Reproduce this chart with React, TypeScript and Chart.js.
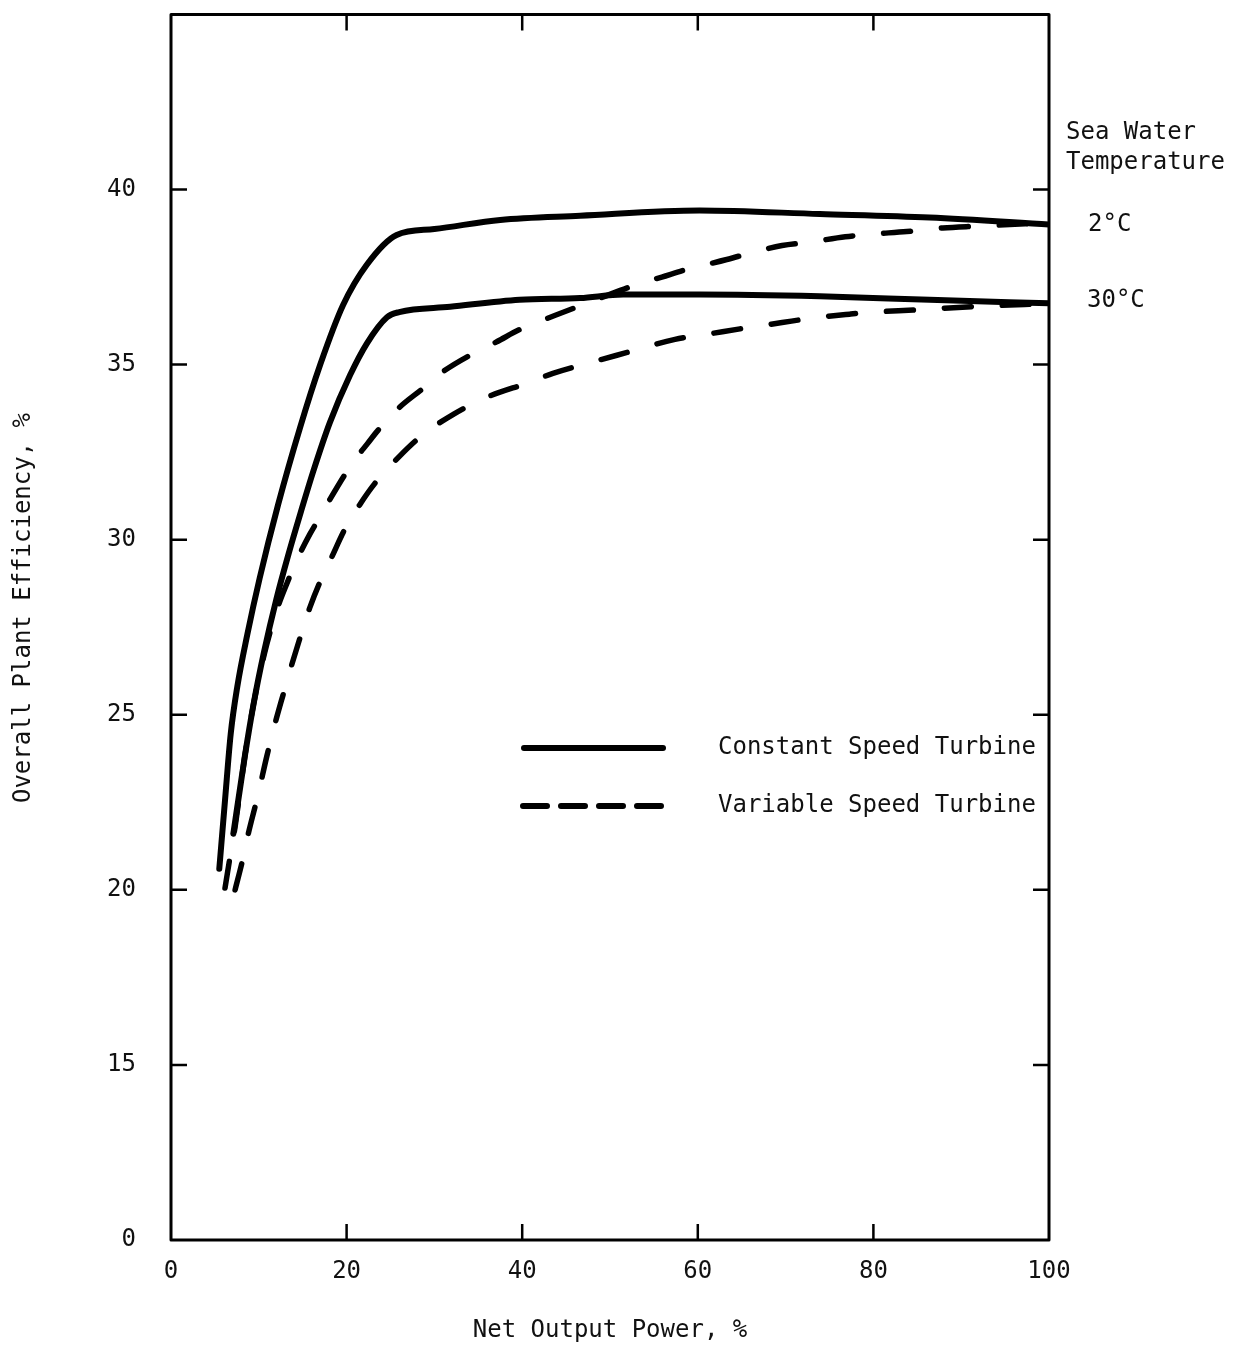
import React, { useEffect, useRef } from "react";
import { Chart, registerables } from "chart.js";

Chart.register(...registerables);

const FONT = '"DejaVu Sans Mono", "Liberation Mono", monospace';
const INK = "#111";
const FS = 24;

// ---- axes ----
const xTickValues = [0, 20, 40, 60, 80, 100];
const xTickLabels = ["0", "20", "40", "60", "80", "100"];
const yTickValues = [10, 15, 20, 25, 30, 35, 40, 45];
const yTickLabels = ["0", "15", "20", "25", "30", "35", "40", ""];
const innerTickX = [20, 40, 60, 80];
const innerTickY = [15, 20, 25, 30, 35, 40];

const xTitle = "Net Output Power, %";
const yTitle = "Overall Plant Efficiency, %";
const sideTitle = ["Sea Water", "Temperature"];
const tempLabels = ["2°C", "30°C"];
const legendLabels = ["Constant Speed Turbine", "Variable Speed Turbine"];

// ---- Constant speed turbine, 2°C ----
const const2X = [5.5, 6.15, 6.8, 7.55, 8.7, 10.1, 12.2, 14.7, 17.0, 19.6, 22.3, 25.7, 30, 37.5, 46.6, 60.2, 73.9, 86.4, 100];
const const2Y = [20.6, 22.55, 24.45, 25.8, 27.3, 28.9, 31.0, 33.2, 35.0, 36.7, 37.85, 38.7, 38.87, 39.13, 39.25, 39.4, 39.3, 39.2, 39.0];

// ---- Constant speed turbine, 30°C ----
const const30X = [7.1, 8.4, 9.4, 10.6, 12.0, 13.4, 14.8, 16.2, 18.1, 20.4, 22.3, 24.6, 26, 31.8, 39.7, 46.6, 51.5, 60.2, 73.9, 86.4, 100];
const const30Y = [21.6, 23.8, 25.3, 26.8, 28.3, 29.6, 30.8, 31.95, 33.35, 34.7, 35.6, 36.35, 36.5, 36.65, 36.85, 36.9, 37.0, 37.0, 36.95, 36.85, 36.75];

// ---- Variable speed turbine, 2°C ----
const var2X = [6.15, 6.7, 7.3, 8.4, 9.4, 10.6, 12.0, 13.2, 14.3, 15.8, 17.2, 18.1, 20.7, 22.4, 23.5, 25.9, 28.6, 31.0, 34.3, 37.1, 39.7, 43.7, 48.9, 53.2, 55.9, 58.5, 63.3, 66.2, 69.6, 72.8, 76.8, 79.6, 83.8, 87.9, 91.6, 100];
const var2Y = [20.05, 20.9, 21.8, 23.8, 25.3, 26.7, 27.95, 28.75, 29.4, 30.15, 30.75, 31.15, 32.2, 32.75, 33.1, 33.75, 34.3, 34.8, 35.3, 35.65, 36.0, 36.4, 36.9, 37.3, 37.5, 37.7, 38.0, 38.2, 38.4, 38.5, 38.65, 38.72, 38.8, 38.9, 38.95, 39.05];

// ---- Variable speed turbine, 30°C ----
const var30X = [7.3, 8.2, 8.8, 9.9, 10.9, 11.8, 12.8, 13.6, 14.7, 15.8, 16.9, 18.3, 19.8, 21.5, 23.2, 26.1, 28.7, 32.3, 35.8, 40.9, 43.5, 47.5, 52, 57.4, 61.4, 64.8, 69.6, 72.8, 77.3, 80, 84.7, 87.4, 91.6, 100];
const var30Y = [20.0, 20.9, 21.6, 22.7, 23.8, 24.7, 25.6, 26.3, 27.2, 28.05, 28.75, 29.5, 30.3, 31.0, 31.6, 32.4, 33.0, 33.6, 34.05, 34.5, 34.75, 35.04, 35.35, 35.72, 35.88, 36.02, 36.2, 36.32, 36.44, 36.5, 36.56, 36.6, 36.66, 36.74];

const zip = (xs: number[], ys: number[]) => xs.map((x, i) => ({ x, y: ys[i] }));

const LINE_DASH = [27, 31];

const decorPlugin = {
  id: "decor",
  afterDatasetsDraw(chart: any) {
    const { ctx, chartArea: a, scales } = chart;
    const xs = scales.x;
    const ys = scales.y;
    ctx.save();
    ctx.strokeStyle = "#000";
    ctx.fillStyle = INK;
    // frame
    ctx.lineWidth = 3;
    ctx.lineJoin = "round";
    ctx.strokeRect(a.left, a.top, a.right - a.left, a.bottom - a.top);
    // inward ticks
    const L = 16;
    ctx.lineWidth = 2.5;
    ctx.beginPath();
    for (const v of innerTickX) {
      const px = xs.getPixelForValue(v);
      ctx.moveTo(px, a.bottom);
      ctx.lineTo(px, a.bottom - L);
      ctx.moveTo(px, a.top);
      ctx.lineTo(px, a.top + L);
    }
    for (const v of innerTickY) {
      const py = ys.getPixelForValue(v);
      ctx.moveTo(a.left, py);
      ctx.lineTo(a.left + L, py);
      ctx.moveTo(a.right, py);
      ctx.lineTo(a.right - L, py);
    }
    ctx.stroke();

    // legend
    ctx.lineWidth = 6;
    ctx.lineCap = "round";
    ctx.beginPath();
    ctx.moveTo(524, 748);
    ctx.lineTo(663, 748);
    ctx.stroke();
    ctx.setLineDash([24, 14]);
    ctx.beginPath();
    ctx.moveTo(523, 806);
    ctx.lineTo(665, 806);
    ctx.stroke();
    ctx.setLineDash([]);

    ctx.font = `${FS}px ${FONT}`;
    ctx.textAlign = "left";
    ctx.textBaseline = "middle";
    ctx.fillText(legendLabels[0], 718, 748);
    ctx.fillText(legendLabels[1], 718, 806);

    // right side labels
    ctx.fillText(sideTitle[0], 1066, 133);
    ctx.fillText(sideTitle[1], 1066, 163);
    ctx.fillText(tempLabels[0], 1088, ys.getPixelForValue(const2Y[const2Y.length - 1]));
    ctx.fillText(tempLabels[1], 1087, ys.getPixelForValue(const30Y[const30Y.length - 1]) - 3);

    // y title
    ctx.translate(24, 608);
    ctx.rotate(-Math.PI / 2);
    ctx.textAlign = "center";
    ctx.fillText(yTitle, 0, 0);
    ctx.restore();
  },
};

export default function App() {
  const ref = useRef<HTMLCanvasElement | null>(null);

  useEffect(() => {
    if (!ref.current) return;
    const lineBase = {
      borderColor: "#000",
      backgroundColor: "#000",
      borderWidth: 6,
      pointRadius: 0,
      fill: false,
      cubicInterpolationMode: "monotone" as const,
      borderCapStyle: "round" as const,
      borderJoinStyle: "round" as const,
    };
    const chart = new Chart(ref.current, {
      type: "line",
      data: {
        datasets: [
          { ...lineBase, label: `${legendLabels[0]} ${tempLabels[0]}`, data: zip(const2X, const2Y) },
          { ...lineBase, label: `${legendLabels[0]} ${tempLabels[1]}`, data: zip(const30X, const30Y) },
          { ...lineBase, borderWidth: 5.5, borderDash: LINE_DASH, label: `${legendLabels[1]} ${tempLabels[0]}`, data: zip(var2X, var2Y) },
          { ...lineBase, borderWidth: 5.5, borderDash: LINE_DASH, label: `${legendLabels[1]} ${tempLabels[1]}`, data: zip(var30X, var30Y) },
        ],
      },
      options: {
        animation: false,
        responsive: false,
        devicePixelRatio: 1,
        layout: { autoPadding: false, padding: { top: 12, right: 193, bottom: 0, left: 0 } },
        plugins: { legend: { display: false }, tooltip: { enabled: false } },
        scales: {
          x: {
            type: "linear",
            min: 0,
            max: 100,
            afterBuildTicks: (s: any) => {
              s.ticks = xTickValues.map((v) => ({ value: v }));
            },
            afterFit: (s: any) => {
              s.height = 109;
            },
            grid: { display: false, drawTicks: true, tickLength: 17 },
            border: { display: false },
            ticks: {
              autoSkip: false,
              maxRotation: 0,
              padding: 0,
              color: INK,
              font: { family: FONT, size: FS },
              callback: (v: any) => {
                const i = xTickValues.indexOf(Number(v));
                return i >= 0 ? xTickLabels[i] : null;
              },
            },
            title: {
              display: true,
              text: xTitle,
              color: INK,
              font: { family: FONT, size: FS },
              padding: { top: 0, bottom: 4 },
            },
          },
          y: {
            type: "linear",
            min: 10,
            max: 45,
            afterBuildTicks: (s: any) => {
              s.ticks = yTickValues.map((v) => ({ value: v }));
            },
            afterFit: (s: any) => {
              s.width = 171;
            },
            grid: { display: false, drawTicks: true, tickLength: 35 },
            border: { display: false },
            ticks: {
              autoSkip: false,
              padding: 0,
              color: INK,
              font: { family: FONT, size: FS },
              callback: (v: any) => {
                const i = yTickValues.indexOf(Number(v));
                return i >= 0 && yTickLabels[i] !== "" ? yTickLabels[i] : null;
              },
            },
          },
        },
      },
      plugins: [decorPlugin],
    });
    return () => chart.destroy();
  }, []);

  return (
    <div style={{ position: "absolute", left: 0, top: 0, width: 1242, height: 1349, background: "#fff" }}>
      <canvas ref={ref} width={1242} height={1349} style={{ display: "block" }} />
    </div>
  );
}
